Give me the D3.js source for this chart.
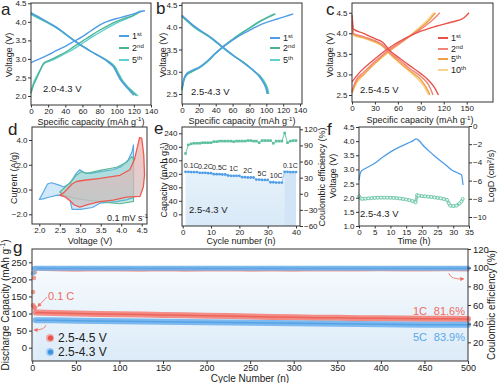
<!DOCTYPE html>
<html><head><meta charset="utf-8">
<script src="https://cdn.jsdelivr.net/npm/d3@7/dist/d3.min.js"></script>
<style>body{margin:0;background:#fff}svg{display:block}text{font-family:Arial,"Liberation Sans",sans-serif}</style>
</head><body><svg width="500" height="383"></svg>
<script>
// ================= DATA =================
// panel a (2.0-4.3 V)
const aCharge1=[[0,2.9],[10,3.0],[20,3.11],[30,3.23],[41.6,3.36],[50,3.47],[60,3.6],[70,3.76],[80.5,3.92],[90,4.02],[100,4.09],[110,4.15],[119,4.21],[127,4.27],[133,4.3]];
const aCharge2=[[0,2.07],[3,2.3],[7,2.5],[10.5,2.68],[14,2.86],[18,2.93],[22,2.97],[30,3.06],[41.6,3.2],[50,3.33],[60,3.48],[70,3.63],[80.5,3.78],[90,3.9],[100,4.01],[110,4.1],[119,4.17],[125,4.24],[129,4.3]];
const aCharge5=[[0,2.12],[3,2.35],[7,2.55],[11,2.72],[15,2.86],[19,2.92],[24,2.96],[32,3.05],[43,3.18],[52,3.3],[62,3.45],[72,3.6],[82,3.74],[92,3.87],[102,3.99],[112,4.09],[120,4.17],[124,4.24],[127,4.3]];
const aDis1=[[0,4.25],[5,4.18],[10,4.12],[22,3.96],[30,3.85],[41.6,3.65],[50,3.5],[61,3.33],[70,3.2],[80.5,3.06],[88,2.95],[93,2.86],[96,2.79],[100,2.62],[104,2.45],[108,2.33],[112,2.22],[116,2.12],[120,2.02]];
const aDis2=[[0,4.22],[5,4.16],[10,4.1],[22,3.95],[30,3.84],[42,3.64],[50,3.5],[61,3.33],[70,3.2],[81,3.06],[89,2.95],[94,2.86],[97,2.79],[101,2.62],[105,2.45],[110,2.3],[115,2.18],[119,2.09],[123,2.01]];
const aDis5=[[0,4.2],[5,4.14],[10,4.08],[22,3.94],[30,3.83],[42,3.63],[50,3.5],[61,3.33],[70,3.2],[81,3.06],[89,2.96],[95,2.86],[98,2.79],[102,2.62],[106,2.45],[111,2.3],[116,2.18],[121,2.08],[125,2.0]];
const aYTicks=[2.0,2.5,3.0,3.5,4.0,4.5];
const aXTicks=[0,20,40,60,80,100,120,140];
// panel b (2.5-4.3 V)
const bCharge1=[[0,2.63],[2,2.82],[5.5,2.96],[12,3.03],[21,3.11],[30,3.24],[40,3.42],[47,3.53],[60,3.71],[73,3.86],[82,3.95],[92,4.05],[102,4.12],[112,4.18],[122,4.24],[132,4.3]];
const bCharge2=[[0,2.6],[2,2.8],[5,2.93],[12,3.01],[21,3.1],[30,3.23],[40,3.42],[47,3.54],[60,3.73],[73,3.9],[82,4.01],[92,4.13],[102,4.22],[111,4.3]];
const bCharge5=[[0,2.58],[2,2.78],[5,2.91],[12,3.0],[21,3.09],[30,3.22],[40,3.41],[47,3.53],[60,3.72],[73,3.89],[82,4.0],[92,4.12],[100,4.21],[109,4.3]];
const bDis1=[[0,4.27],[15,4.02],[33,3.79],[47,3.58],[60,3.38],[73,3.2],[80,3.1],[85,3.03],[90,2.93],[95,2.8],[98,2.7],[100,2.6],[101,2.5]];
const bDis2=[[0,4.25],[15,4.0],[33,3.78],[47,3.57],[60,3.38],[73,3.21],[80,3.1],[86,3.0],[91,2.92],[96,2.8],[99,2.7],[101,2.6],[102,2.5]];
const bDis5=[[0,4.24],[15,3.99],[33,3.77],[47,3.56],[60,3.37],[73,3.21],[80,3.11],[86,3.01],[92,2.92],[97,2.8],[100,2.7],[102,2.6],[103,2.5]];
const bYTicks=[2.5,3.0,3.5,4.0,4.5];
// panel c (2.5-4.5 V)
const cCharge1=[[0,2.82],[10,3.05],[25,3.3],[45,3.6],[70,3.88],[90,4.05],[110,4.17],[132,4.28],[145,4.36],[150,4.44],[153,4.5]];
const cCharge2=[[0,2.6],[5,2.85],[15,3.05],[45,3.55],[70,3.86],[90,4.1],[104,4.3],[115,4.5]];
const cCharge5=[[0,2.55],[5,2.8],[15,3.0],[45,3.52],[70,3.85],[90,4.14],[100,4.3],[109,4.5]];
const cCharge10=[[0,2.55],[5,2.75],[15,2.98],[45,3.5],[70,3.86],[90,4.17],[99,4.33],[107,4.5]];
const cDis1=[[0,4.45],[2,4.1],[15,4.0],[30,3.87],[40,3.78],[50,3.57],[62,3.4],[75,3.22],[90,3.02],[100,2.86],[108,2.68],[113,2.5]];
const cDis2=[[0,4.3],[2,4.0],[15,3.92],[30,3.82],[40,3.72],[50,3.52],[62,3.35],[75,3.15],[90,2.95],[100,2.75],[106,2.5]];
const cDis5=[[0,4.2],[2,3.97],[15,3.9],[30,3.8],[40,3.7],[50,3.5],[62,3.3],[75,3.1],[90,2.87],[98,2.65],[102,2.5]];
const cDis10=[[0,4.15],[2,3.95],[15,3.88],[30,3.78],[40,3.68],[50,3.48],[62,3.28],[75,3.07],[88,2.85],[96,2.65],[100,2.5]];
const cXTicks=[0,30,60,90,120,150];
// panel d (CV)
const dBlue=[[2.0,-0.8],[2.1,-0.2],[2.2,0.45],[2.3,0.55],[2.45,0.4],[2.6,0.2],[2.75,0.5],[2.9,1.3],[2.99,1.6],[3.1,1.35],[3.25,1.3],[3.5,1.45],[3.8,1.6],[4.0,1.85],[4.17,2.4],[4.26,3.0],[4.3,3.6],[4.3,-0.65],[4.13,-0.83],[3.89,-0.97],[3.48,-1.1],[3.3,-1.45],[3.0,-1.6],[2.8,-1.6],[2.75,-0.85],[2.65,-0.55],[2.45,-0.45],[2.25,-0.6],[2.1,-0.75]];
const dGreen=[[2.5,-0.2],[2.6,0.1],[2.75,0.55],[2.91,1.18],[3.03,1.45],[3.16,1.3],[3.48,1.55],[3.89,1.8],[4.13,2.2],[4.26,2.66],[4.3,2.5],[4.3,-0.95],[3.97,-1.15],[3.7,-1.05],[3.48,-0.97],[3.16,-0.85],[2.83,-0.7],[2.6,-0.45]];
const dRed=[[2.5,-0.45],[2.6,-0.25],[2.7,0.1],[2.8,0.45],[2.91,0.65],[3.1,0.75],[3.48,0.9],[3.97,1.15],[4.21,1.6],[4.32,2.4],[4.4,3.5],[4.45,4.2],[4.5,4.15],[4.55,2.8],[4.57,1.2],[4.54,0.2],[4.46,-0.55],[4.13,-0.62],[3.8,-0.85],[3.48,-0.98],[3.2,-1.2],[2.99,-1.42],[2.85,-1.25],[2.75,-0.9],[2.63,-0.6]];
const dXTicks=[2.0,2.5,3.0,3.5,4.0,4.5];
const dYTicks=[-2,0,2,4];
// panel e (rate)
const eCycle=[1,2,3,4,5,6,7,8,9,10,11,12,13,14,15,16,17,18,19,20,21,22,23,24,25,26,27,28,29,30,31,32,33,34,35,36,37,38,39,40];
const eCap=[126,126,125,125,125,123,123,123,122,122,119,119,119,118,118,115,114,114,114,114,110,110,109,109,109,103,103,102,102,102,95,95,94,94,94,126,126,125,125,125];
const eCE=[75,91,93,94,94,94,95,95,95,95,97,97,98,98,98,98,98,97,98,98,98,98,99,99,98,98,95,99,99,99,99,94,98,98,98,113,95,98,99,99];
const eRates=['0.1C','0.2C','0.5C','1C','2C','5C','10C','0.1C'];
const eLYTicks=[0,40,80,120,160,200,240];
const eRYTicks=[-60,-30,0,30,60,90,120];
const eXTicks=[0,10,20,30,40];
// panel f (GITT)
const fTime=[0,0.3,0.7,2,5,7.5,10.3,13,15.6,17,18.2,18.6,20.9,23.5,26.2,28,29.4,30.5,31.5,32.6,33.1];
const fVolt=[2.61,2.82,2.93,3.03,3.22,3.43,3.64,3.8,3.93,4.0,4.08,4.06,3.79,3.53,3.28,3.12,2.99,2.92,2.87,2.81,2.45];
const fDTime=[0,0.5,1,2,3,4,5,6,7,8,9,10,11,12,13,14,15,16,17,18,18.5,19,20,21,22,23,24,25,26,27,28,28.6,29,30,31,32,32.6,33];
const fLogD=[-7.7,-7.95,-8.0,-7.98,-7.95,-7.93,-7.9,-7.88,-7.87,-7.87,-7.87,-7.88,-7.9,-7.93,-7.97,-8.02,-8.08,-8.15,-8.25,-8.4,-7.6,-7.65,-7.7,-7.73,-7.76,-7.8,-7.85,-7.9,-7.95,-8.02,-8.12,-8.5,-8.75,-8.8,-8.75,-8.5,-8.3,-8.0];
const fXTicks=[0,5,10,15,20,25,30,35];
const fLYTicks=[1.0,1.5,2.0,2.5,3.0,3.5,4.0,4.5];
const fRYTicks=[-10,-8,-6,-4,-2,0];
// panel g (long cycling)
const gCyc=[4,25,50,75,100,125,150,175,200,225,250,275,300,325,350,375,400,425,450,475,500];
const gRedCap=[103,101.5,100,99,98,97,96,95,93.5,92.5,91,90,89,88,87.5,86.5,86,85.5,85,84.5,84];
const gBlueCap=[80.5,80,79,78.5,77.5,77,76,75,74.5,74,73,72.5,71.5,71,70,69.5,69,68,67.5,67,67];
const gRedCE=[98.5,98,97.5,98,97.8,97.5,98,97.6,97.8,98,97.5,97.8,97.6,98,97.8,97.7,98,97.9,97.8,98,97.9];
const gBlueCE=[99.5,99.5,99.5,99.5,99.5,99.5,99.5,99.5,99.5,99.5,99.5,99.5,99.5,99.5,99.5,99.5,99.5,99.5,99.5,99.5,99.5];
const gEarlyCyc=[1,2,3];
const gEarlyRedCap=[124,119,116];
const gEarlyRedCE=[74,89,95];
const gEarlyBlueCE=[94,99,99.5];
const gXTicks=[0,50,100,150,200,250,300,350,400,450,500];
const gLYTicks=[0,50,100,150,200,250];
const gRYTicks=[20,40,60,80,100,120];

// ================= DRAW =================
const svg=d3.select('svg');
const defs=svg.append('defs');
const INK='#222';
function frame(x0,x1,y0,y1){svg.append('rect').attr('x',x0).attr('y',y0).attr('width',x1-x0).attr('height',y1-y0).attr('fill','none').attr('stroke','#333').attr('stroke-width',1);}
function ax(gen,tx,ty,fs){const g=svg.append('g').attr('transform',`translate(${tx},${ty})`).call(gen);g.select('.domain').remove();g.selectAll('text').attr('font-size',fs).attr('font-family','Arial,"Liberation Sans",sans-serif').attr('fill',INK);g.selectAll('line').attr('stroke','#333');return g;}
function T(x,y,parts,o={}){
  const fs=o.fs||9;
  const t=svg.append('text').attr('x',x).attr('y',y).attr('font-size',fs).attr('fill',o.fill||INK).attr('text-anchor',o.anchor||'start');
  if(o.rot)t.attr('transform',`rotate(${o.rot},${x},${y})`);
  if(typeof parts==='string'){t.text(parts);return t;}
  let up=false;
  parts.forEach(p=>{
    const sp=t.append('tspan').text(p[0]);
    if(p[1]==='sup'){sp.attr('font-size',fs*0.68).attr('dy',-fs*0.38);up=true;}
    else if(up){sp.attr('dy',fs*0.38);up=false;}
  });
  return t;
}
const fmt1=d3.format('.1f');
function lineGen(x,y,curve){return d3.line().x(d=>x(d[0])).y(d=>y(d[1])).curve(curve||d3.curveMonotoneX);}
function legend(items,colors,lx,ys,fs){
  items.forEach((it,i)=>{
    svg.append('line').attr('x1',lx).attr('x2',lx+10).attr('y1',ys[i]).attr('y2',ys[i]).attr('stroke',colors[i]).attr('stroke-width',2);
    T(lx+13,ys[i]+3,[[it[0]],[it[1],'sup']],{fs:fs});
  });
}
const TFS=8, LFS=9;

// ---------- panel a ----------
{
  const x=d3.scaleLinear([0,140],[31,151]), y=d3.scaleLinear([2,4.5],[96,3.3]);
  const cols=['#4f9de6','#4cb393','#5fd0d0'];
  const L=lineGen(x,y);
  [[aCharge5,2],[aDis5,2],[aCharge2,1],[aDis2,1],[aCharge1,0],[aDis1,0]].forEach(([d,i])=>svg.append('path').attr('d',L(d)).attr('fill','none').attr('stroke',cols[i]).attr('stroke-width',1.4));
  frame(31,151,3,105);
  ax(d3.axisLeft(y).tickValues(aYTicks).tickFormat(fmt1).tickSize(3).tickPadding(1.5),31,0,TFS);
  ax(d3.axisBottom(x).tickValues(aXTicks).tickSize(2.5).tickPadding(0.5),0,105,TFS);
  T(91,124.5,[['Specific capacity (mAh g'],['-1','sup'],[')']],{fs:LFS,anchor:'middle'});
  T(12,55,'Voltage (V)',{fs:LFS,anchor:'middle',rot:-90});
  legend([['1','st'],['2','nd'],['5','th']],cols,119,[36,48,60],LFS);
  T(43,92,'2.0-4.3 V',{fs:9.5});
  T(1,15,'a',{fs:17});
}
// ---------- panel b ----------
{
  const x=d3.scaleLinear([0,140],[182,300]), y=d3.scaleLinear([2.5,4.5],[94,5]);
  const cols=['#4f9de6','#4cb393','#5fd0d0'];
  const L=lineGen(x,y);
  [[bCharge5,2],[bDis5,2],[bCharge2,1],[bDis2,1],[bCharge1,0],[bDis1,0]].forEach(([d,i])=>svg.append('path').attr('d',L(d)).attr('fill','none').attr('stroke',cols[i]).attr('stroke-width',1.4));
  frame(182,302,3,104);
  ax(d3.axisLeft(y).tickValues(bYTicks).tickFormat(fmt1).tickSize(3).tickPadding(1.5),182,0,TFS);
  ax(d3.axisBottom(x).tickValues(aXTicks).tickSize(2.5).tickPadding(0.5),0,104,TFS);
  T(242,124,[['Specific capacity (mAh g'],['-1','sup'],[')']],{fs:LFS,anchor:'middle'});
  T(166,55,'Voltage (V)',{fs:LFS,anchor:'middle',rot:-90});
  legend([['1','st'],['2','nd'],['5','th']],cols,270,[38,48,60],LFS);
  T(191,95,'2.5-4.3 V',{fs:9.5});
  T(156,14,'b',{fs:17});
}
// ---------- panel c ----------
{
  const x=d3.scaleLinear([0,150],[352,466.7]), y=d3.scaleLinear([2.5,4.5],[95,12.7]);
  const cols=['#e8524a','#f2847c','#f0a046','#f8d58c'];
  const L=lineGen(x,y);
  [[cCharge10,3],[cDis10,3],[cCharge5,2],[cDis5,2],[cCharge2,1],[cDis2,1],[cCharge1,0],[cDis1,0]].forEach(([d,i])=>svg.append('path').attr('d',L(d)).attr('fill','none').attr('stroke',cols[i]).attr('stroke-width',1.4));
  frame(352,493,3,102);
  ax(d3.axisLeft(y).tickValues(bYTicks).tickFormat(fmt1).tickSize(3).tickPadding(1.5),352,0,TFS);
  ax(d3.axisBottom(x).tickValues(cXTicks).tickSize(2.5).tickPadding(0.5),0,102,TFS);
  T(420,123,[['Specific capacity (mAh g'],['-1','sup'],[')']],{fs:LFS,anchor:'middle'});
  T(333,55,'Voltage (V)',{fs:LFS,anchor:'middle',rot:-90});
  legend([['1','st'],['2','nd'],['5','th'],['10','th']],cols,438,[38,49,59,70],LFS);
  T(360,93,'2.5-4.5 V',{fs:9.5});
  T(326,15,'c',{fs:17});
}
// ---------- panel d ----------
{
  const x=d3.scaleLinear([2,4.5],[39.3,141.7]), y=d3.scaleLinear([-2,4],[214.3,140]);
  const gr=defs.append('linearGradient').attr('id','gRed').attr('x1',0).attr('x2',0).attr('y1',0).attr('y2',1);
  gr.append('stop').attr('offset',0).attr('stop-color','#f3b3ad').attr('stop-opacity',0.75);
  gr.append('stop').attr('offset',1).attr('stop-color','#c9c2c4').attr('stop-opacity',0.75);
  const L=d3.line().x(d=>x(d[0])).y(d=>y(d[1])).curve(d3.curveLinearClosed);
  svg.append('path').attr('d',L(dBlue)).attr('fill','rgba(120,190,240,0.35)').attr('stroke','#5aaae8').attr('stroke-width',1.2).attr('stroke-linejoin','round');
  svg.append('path').attr('d',L(dGreen)).attr('fill','rgba(110,200,170,0.35)').attr('stroke','#5cb89c').attr('stroke-width',1.2).attr('stroke-linejoin','round');
  svg.append('path').attr('d',L(dRed)).attr('fill','url(#gRed)').attr('stroke','#ee5a50').attr('stroke-width',1.3).attr('stroke-linejoin','round');
  frame(32,147,127,224);
  ax(d3.axisLeft(y).tickValues(dYTicks).tickSize(3).tickPadding(1.5),32,0,TFS);
  ax(d3.axisBottom(x).tickValues(dXTicks).tickFormat(fmt1).tickSize(2.5).tickPadding(0.5),0,224,TFS);
  T(90,244,'Voltage (V)',{fs:LFS,anchor:'middle'});
  T(17,178,'Current (A/g)',{fs:LFS,anchor:'middle',rot:-90});
  T(107,221,[['0.1 mV s'],['-1','sup']],{fs:9});
  T(8,135,'d',{fs:17});
}
// ---------- panel e ----------
{
  const x=d3.scaleLinear([0,40],[182.7,296]), yL=d3.scaleLinear([0,240],[214.3,133.3]), yR=d3.scaleLinear([-60,120],[226,129.3]);
  const ge=defs.append('linearGradient').attr('id','gE').attr('x1',0).attr('x2',0).attr('y1',0).attr('y2',1);
  ge.append('stop').attr('offset',0).attr('stop-color','#e6f2fb');
  ge.append('stop').attr('offset',1).attr('stop-color','#d9e9f7');
  const area=d3.area().x((d,i)=>x(eCycle[i])).y0(226).y1(d=>yL(d)).curve(d3.curveStep);
  svg.append('path').attr('d',area(eCap)).attr('fill','url(#gE)');
  const area2=d3.area().x((d,i)=>x(eCycle[35+i])).y0(226).y1(d=>yL(d)).curve(d3.curveStep);
  svg.append('path').attr('d',area2(eCap.slice(35))).attr('fill','#d2e4f6');
  const lc=d3.line().x((d,i)=>x(eCycle[i])).y(d=>yL(d));
  svg.append('path').attr('d',lc(eCap)).attr('fill','none').attr('stroke','#7db8ee').attr('stroke-width',0.8);
  svg.selectAll(null).data(eCap).join('circle').attr('cx',(d,i)=>x(eCycle[i])).attr('cy',d=>yL(d)).attr('r',1.4).attr('fill','#4f9de6');
  const lce=d3.line().x((d,i)=>x(eCycle[i])).y(d=>yR(d));
  svg.append('path').attr('d',lce(eCE)).attr('fill','none').attr('stroke','#5cbf9f').attr('stroke-width',0.9);
  svg.selectAll(null).data(eCE).join('rect').attr('x',(d,i)=>x(eCycle[i])-1.3).attr('y',d=>yR(d)-1.3).attr('width',2.6).attr('height',2.6).attr('fill','#5cbf9f');
  eRates.forEach((r,k)=>{
    const i0=k*5, mid=(eCycle[i0]+eCycle[i0+4])/2;
    T(x(mid),yL(eCap[i0])-4,r,{fs:7,anchor:'middle'});
  });
  frame(182,300,127,226);
  ax(d3.axisLeft(yL).tickValues(eLYTicks).tickSize(3).tickPadding(1.5),182,0,TFS);
  ax(d3.axisRight(yR).tickValues(eRYTicks).tickSize(3).tickPadding(1),300,0,TFS);
  ax(d3.axisBottom(x).tickValues(eXTicks).tickSize(2.5).tickPadding(0.5),0,226,TFS);
  T(241,244,'Cycle number (n)',{fs:LFS,anchor:'middle'});
  T(167,180,[['Capacity (mAh g'],['-1','sup'],[')']],{fs:LFS,anchor:'middle',rot:-90});
  T(325,177,'Coulombic efficiency (%)',{fs:LFS,anchor:'middle',rot:-90});
  T(189,213,'2.5-4.3 V',{fs:9.5});
  T(154,134,'e',{fs:17});
}
// ---------- panel f ----------
{
  const x=d3.scaleLinear([0,35],[359,469]), yL=d3.scaleLinear([1,4.5],[226,127]), yR=d3.scaleLinear([-10,0],[217,126]);
  const lv=d3.line().x((d,i)=>x(fTime[i])).y(d=>yL(d)).curve(d3.curveMonotoneX);
  svg.append('path').attr('d',lv(fVolt)).attr('fill','none').attr('stroke','#4f9de6').attr('stroke-width',1.3);
  const ld=d3.line().x((d,i)=>x(fDTime[i])).y(d=>yR(d));
  svg.append('path').attr('d',ld(fLogD)).attr('fill','none').attr('stroke','#8fd3bf').attr('stroke-width',3.2).attr('stroke-linejoin','round');
  svg.selectAll(null).data(fLogD).join('circle').attr('cx',(d,i)=>x(fDTime[i])).attr('cy',d=>yR(d)).attr('r',1.5).attr('fill','#e8f6f1').attr('stroke','#5cbf9f').attr('stroke-width',0.7);
  frame(359,469,127,226);
  ax(d3.axisLeft(yL).tickValues(fLYTicks).tickFormat(fmt1).tickSize(3).tickPadding(1.5),359,0,TFS);
  ax(d3.axisRight(yR).tickValues(fRYTicks).tickSize(3).tickPadding(1),469,0,TFS);
  ax(d3.axisBottom(x).tickValues(fXTicks).tickSize(2.5).tickPadding(0.5),0,226,TFS);
  T(414,244,'Time (h)',{fs:LFS,anchor:'middle'});
  T(336,176,'Voltage (V)',{fs:LFS,anchor:'middle',rot:-90});
  T(494,176,[['LogD (cm'],['2','sup'],['/s)']],{fs:LFS,anchor:'middle',rot:-90});
  T(360,217,'2.5-4.3 V',{fs:9.5});
  T(327,135,'f',{fs:17});
}
// ---------- panel g ----------
{
  const x=d3.scaleLinear([0,500],[32.3,468]), yL=d3.scaleLinear([0,250],[347.7,262.3]), yR=d3.scaleLinear([0,120],[361,249]);
  const gg=defs.append('linearGradient').attr('id','gG').attr('x1',0).attr('x2',0).attr('y1',0).attr('y2',1);
  gg.append('stop').attr('offset',0).attr('stop-color','#f6fafd');
  gg.append('stop').attr('offset',1).attr('stop-color','#dcebf8');
  const bg=d3.area().x((d,i)=>x(gCyc[i])).y0(361).y1(d=>yR(d));
  svg.append('path').attr('d',bg(gBlueCE)).attr('fill','url(#gG)');
  svg.append('rect').attr('x',x(0)).attr('y',yR(gBlueCE[0])).attr('width',x(gCyc[0])-x(0)).attr('height',361-yR(gBlueCE[0])).attr('fill','url(#gG)');
  const band=(arr,ys,col,w,op)=>{
    const l=d3.line().x((d,i)=>x(gCyc[i])).y(d=>ys(d));
    svg.append('path').attr('d',l(arr)).attr('fill','none').attr('stroke',col).attr('stroke-width',w).attr('stroke-opacity',op).attr('stroke-linecap','round');
  };
  band(gRedCE,yR,'#f08a80',3.5,0.8);
  band(gRedCE,yR,'#f26f64',1.2,0.8);
  band(gBlueCE,yR,'#6fb3ee',5,0.9);
  band(gBlueCE,yR,'#4b9de6',1.5,0.6);
  band(gRedCap,yL,'#f47a70',6,0.85);
  band(gRedCap,yL,'#e8544a',1.5,0.7);
  band(gBlueCap,yL,'#6fb3ee',6,0.9);
  band(gBlueCap,yL,'#3f92de',1.5,0.6);
  svg.selectAll(null).data(gEarlyRedCap).join('circle').attr('cx',(d,i)=>x(gEarlyCyc[i])).attr('cy',d=>yL(d)).attr('r',2.4).attr('fill','#f47a70').attr('fill-opacity',0.8);
  svg.selectAll(null).data(gEarlyRedCE).join('circle').attr('cx',(d,i)=>x(gEarlyCyc[i])).attr('cy',d=>yR(d)).attr('r',2.2).attr('fill','#f47a70').attr('fill-opacity',0.75);
  svg.selectAll(null).data(gEarlyBlueCE).join('circle').attr('cx',(d,i)=>x(gEarlyCyc[i])).attr('cy',d=>yR(d)).attr('r',2.4).attr('fill','#6fb3ee').attr('fill-opacity',0.8);
  frame(32,468,249,361);
  ax(d3.axisLeft(yL).tickValues(gLYTicks).tickSize(3).tickPadding(2),32,0,9.5);
  ax(d3.axisRight(yR).tickValues(gRYTicks).tickSize(3).tickPadding(2),468,0,9.5);
  ax(d3.axisBottom(x).tickValues(gXTicks).tickSize(3).tickPadding(0.5),0,361,9);
  T(250,382.3,'Cycle Number (n)',{fs:10,anchor:'middle'});
  T(9,305,[['Discharge Capacity (mAh g'],['-1','sup'],[')']],{fs:10,anchor:'middle',rot:-90});
  T(495,305,'Coulombic efficiency (%)',{fs:10,anchor:'middle',rot:-90});
  T(13,253,'g',{fs:17});
  const red='#f06a5e', blue='#5aa8e8';
  T(48,300,'0.1 C',{fs:11,fill:red});
  const mk=defs.append('marker').attr('id','arr').attr('viewBox','0 0 6 6').attr('refX',5).attr('refY',3).attr('markerWidth',5).attr('markerHeight',5).attr('orient','auto');
  mk.append('path').attr('d','M0,0L6,3L0,6z').attr('fill',red);
  svg.append('path').attr('d',`M47,297 L${x(3)+3},${yL(118)-1}`).attr('stroke',red).attr('stroke-width',0.8).attr('fill','none').attr('marker-end','url(#arr)');
  svg.append('path').attr('d',`M46,${yL(66)} Q45,${yL(52)} ${x(1)+1},${yL(52)}`).attr('stroke',red).attr('stroke-width',0.8).attr('fill','none').attr('marker-end','url(#arr)');
  svg.append('path').attr('d',`M${x(478)},${yR(94)} Q${x(480)},${yR(87)} ${x(495)},${yR(88)}`).attr('stroke',red).attr('stroke-width',0.8).attr('fill','none').attr('marker-end','url(#arr)');
  T(413,315,'1C',{fs:11,fill:red});
  T(465,315,'81.6%',{fs:11,fill:red,anchor:'end'});
  T(413,341,'5C',{fs:11,fill:blue});
  T(465,341,'83.9%',{fs:11,fill:blue,anchor:'end'});
  svg.append('circle').attr('cx',50).attr('cy',338).attr('r',4).attr('fill','#f47a70').attr('fill-opacity',0.6);
  svg.append('circle').attr('cx',50.5).attr('cy',338).attr('r',2.6).attr('fill','#e8544a');
  svg.append('circle').attr('cx',50).attr('cy',352).attr('r',4).attr('fill','#6fb3ee').attr('fill-opacity',0.6);
  svg.append('circle').attr('cx',50.5).attr('cy',352).attr('r',2.6).attr('fill','#3f92de');
  T(58,342,'2.5-4.5 V',{fs:12});
  T(58,356,'2.5-4.3 V',{fs:12});
}
</script></body></html>
